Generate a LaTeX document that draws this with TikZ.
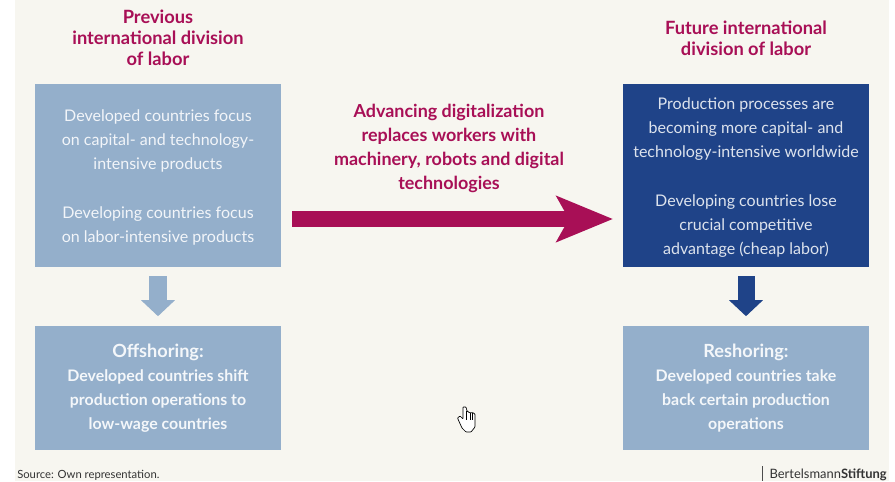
\documentclass[tikz,border=0pt]{standalone}
\usepackage{fontspec}
\setmainfont{Lato}
\usetikzlibrary{arrows.meta}
\definecolor{cream}{HTML}{F7F6F0}
\definecolor{paleblue}{HTML}{94AFCB}
\definecolor{deepblue}{HTML}{1F4388}
\definecolor{wine}{HTML}{A80F56}
\def\lowerfirst{\rule{0pt}{11.2pt}}
\tikzset{
	head/.style={text=wine, font=\fontsize{13}{14.8}\selectfont\bfseries, align=center},
	bodybox/.style={minimum width=6.15cm, inner sep=0pt, align=center, font=\fontsize{11.4}{17}\selectfont},
	leadbox/.style={bodybox, font=\fontsize{11.3}{17}\selectfont\bfseries},
}

\begin{document}
\begin{tikzpicture}[x=0.025cm, y=-0.025cm]
		%%%%% START %%%%%
		\useasboundingbox (0, 0) rectangle (895, 481);
		\fill[white] (0, 0) rectangle (895, 481);
		\fill[cream] (15, 0) rectangle (889, 481);
		
		\node[head] (prevhead) at (158, 37.5) {Previous\\international division\\of labor};
		\node[head] (futhead) at (746, 38) {Future international\\division of labor};
		
		\node[bodybox, fill=paleblue, text=white!88!paleblue, minimum height=4.575cm] (prevbox) at (158, 175.5) {\lowerfirst Developed countries focus\\on capital- and technology-\\intensive products\\[18pt]Developing countries focus\\on labor-intensive products};
		\node[bodybox, fill=deepblue, text=white!85!deepblue, minimum height=4.575cm] (futbox) at (746, 175.5) {\lowerfirst Production processes are\\becoming more capital- and\\technology-intensive worldwide\\[18pt]Developing countries lose\\crucial competitive\\advantage (cheap labor)};
		
		\node[leadbox, fill=paleblue, text=white!90!paleblue, minimum height=3.075cm] (offbox) at (158, 388) {{\fontsize{12.9}{17}\selectfont Offshoring:}\\Developed countries shift\\production operations to\\low-wage countries};
		\node[leadbox, fill=paleblue, text=white!90!paleblue, minimum height=3.075cm] (resbox) at (746, 388) {{\fontsize{12.9}{17}\selectfont Reshoring:}\\Developed countries take\\back certain production\\operations};
		
		\node[text=wine, align=center, font=\fontsize{12.75}{17}\selectfont\bfseries] (digtext) at (449, 148.5) {Advancing digitalization\\replaces workers with\\machinery, robots and digital\\technologies};
		
		\coordinate (digfrom) at (292, 219);
		\coordinate (digto) at (613, 219);
		\draw[line width=0.4cm, wine, -{Stealth[length=1.4cm, width=1.125cm, inset=0.3cm]}] (digfrom) -- (digto);
		
		\draw[line width=0.425cm, paleblue, shorten <=0.225cm, shorten >=0.25cm, -{Triangle[length=0.4cm, width=0.825cm]}] (prevbox) -- (offbox);
		\draw[line width=0.425cm, deepblue, shorten <=0.225cm, shorten >=0.25cm, -{Triangle[length=0.4cm, width=0.825cm]}] (futbox) -- (resbox);
		
		\node[anchor=west, inner sep=0pt, text=black!80, font=\fontsize{8}{9}\selectfont] (source) at (17, 475.5) {Source: Own representation.};
		\node[anchor=east, inner sep=0pt, text=black!80, font=\fontsize{9.2}{9}\selectfont] (brand) at (887, 474.5) {Bertelsmann\textbf{Stiftung}};
		\draw[line width=0.9pt, black!70] (762.5, 466) -- (762.5, 481);
		
		% hand cursor
		\draw[fill=white, line width=0.5pt, rounded corners=0.5pt] (463, 407) -- (463, 419) -- (460, 416) -- (457.5, 418) -- (462, 428) -- (466, 432) -- (471, 432) -- (475, 427) -- (475, 414) -- (472.5, 412.5) -- (470, 413) -- (467, 411) -- (466, 407) -- cycle;
		\draw[line width=0.4pt] (466, 411) -- (466, 420) (470, 413) -- (470, 420) (472.5, 413) -- (472.5, 420);
		%%%%% END %%%%%
	\end{tikzpicture}
\end{document}
